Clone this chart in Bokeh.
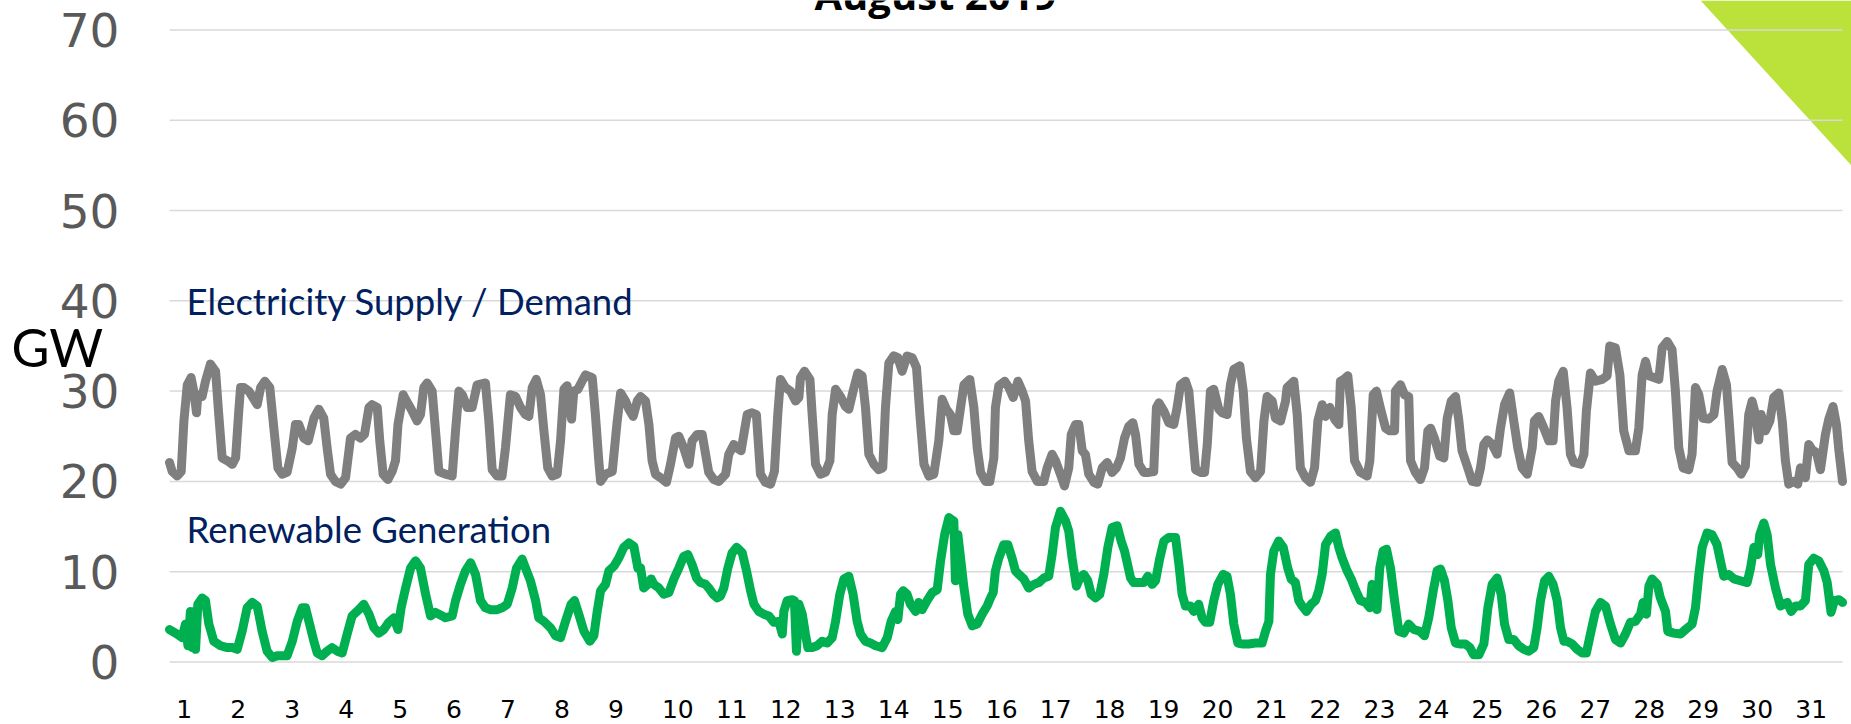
from bokeh.plotting import figure
from bokeh.models import Range1d, Label, ColumnDataSource
from bokeh.embed import file_html
from bokeh.resources import INLINE
from bokeh.core.properties import value

title_text = "August 2019"
y_label = "GW"
demand_label = "Electricity Supply / Demand"
renew_label = "Renewable Generation"
y_ticks = [0, 10, 20, 30, 40, 50, 60, 70]
y_tick_labels = [str(v) for v in y_ticks]
day_labels = [str(d) for d in range(1, 32)]

# hours since 1 Aug 00:00, GW
demand_hours = [0, 1.2, 3.4, 5.2, 6.4, 7.9, 9.6, 10.8, 12.0, 12.6, 14.5, 16.0, 18.2, 20.5, 21.9, 23.4, 25.7, 27.9, 29.4, 30.8, 31.6, 33.1, 35.3, 36.8, 39.0, 40.5, 42.4, 44.6, 46.4, 48.2, 50.1, 52.3, 54.6, 56.0, 57.5, 59.7, 61.7, 64.2, 66.4, 68.6, 70.1, 71.6, 73.8, 76.1, 78.3, 80.5, 82.7, 84.9, 86.7, 88.7, 90.1, 92.4, 93.5, 95.0, 97.1, 99.0, 100.5, 101.6, 103.9, 105.4, 107.5, 110.1, 111.6, 113.1, 114.6, 116.8, 118.3, 119.8, 122.7, 125.7, 127.2, 128.7, 130.2, 132.4, 134.6, 136.8, 140.5, 142.0, 143.5, 145.7, 147.9, 149.4, 151.6, 153.9, 156.1, 158.3, 159.8, 161.3, 163.1, 165.0, 166.5, 168.2, 170.2, 172.4, 173.9, 175.4, 176.8, 178.8, 179.8, 181.6, 183.5, 185.0, 188.0, 189.4, 190.9, 191.7, 193.9, 196.9, 199.1, 200.6, 202.8, 204.3, 206.2, 208.0, 209.5, 211.7, 213.2, 214.6, 216.1, 218.4, 221.0, 222.8, 225.0, 226.5, 228.7, 231.0, 232.4, 234.7, 236.9, 238.4, 239.8, 242.1, 244.3, 247.3, 248.7, 251.0, 252.4, 254.2, 255.4, 256.9, 259.1, 261.0, 262.8, 265.0, 267.3, 269.0, 270.5, 271.7, 273.9, 276.2, 278.4, 279.9, 280.6, 282.4, 284.8, 285.8, 287.3, 289.5, 291.7, 293.7, 294.7, 296.2, 298.4, 300.6, 302.1, 304.0, 306.1, 308.0, 309.5, 311.0, 313.2, 315.4, 317.2, 318.4, 319.9, 322.1, 323.9, 325.8, 328.0, 330.3, 332.2, 333.7, 335.5, 337.7, 339.9, 342.1, 343.6, 345.5, 347.3, 348.8, 350.3, 351.8, 353.3, 355.9, 357.7, 359.2, 360.7, 362.9, 364.8, 366.6, 367.3, 368.8, 371.4, 373.3, 375.2, 377.3, 379.2, 380.7, 382.1, 383.6, 385.9, 388.8, 390.3, 392.5, 394.0, 396.2, 398.0, 399.9, 401.0, 402.9, 404.4, 405.9, 407.3, 408.8, 411.1, 412.8, 414.8, 417.0, 419.2, 421.1, 422.9, 424.7, 426.6, 428.4, 429.6, 431.1, 433.3, 435.5, 437.7, 438.9, 440.0, 442.2, 444.4, 446.6, 448.1, 449.6, 451.8, 453.3, 454.8, 456.3, 458.5, 460.3, 461.5, 462.9, 464.4, 466.6, 468.1, 470.3, 471.8, 473.3, 476.0, 477.5, 478.9, 480.7, 482.9, 485.2, 486.7, 488.1, 490.4, 491.8, 494.1, 496.3, 497.0, 500.0, 501.5, 502.9, 505.2, 507.4, 509.2, 510.7, 512.6, 514.1, 516.0, 518.1, 520.0, 520.7, 522.2, 524.0, 525.5, 527.0, 529.6, 532.6, 533.8, 535.3, 536.7, 538.8, 540.8, 542.7, 544.8, 545.2, 547.4, 549.2, 551.1, 551.9, 554.1, 556.3, 558.1, 559.6, 560.8, 562.5, 564.9, 566.7, 568.2, 570.0, 571.9, 573.4, 574.8, 577.1, 579.3, 581.5, 583.0, 584.5, 586.0, 588.2, 590.4, 591.9, 593.7, 596.0, 597.8, 599.6, 601.5, 603.8, 606.0, 607.0, 608.9, 611.2, 613.4, 615.3, 616.4, 617.8, 619.8, 621.5, 623.0, 624.5, 627.5, 629.0, 630.1, 631.9, 634.1, 637.1, 639.3, 640.5, 643.0, 645.0, 646.7, 649.0, 651.9, 653.4, 654.9, 656.4, 657.9, 660.1, 662.3, 663.8, 666.0, 668.2, 669.7, 671.2, 673.1, 675.6, 677.1, 678.6, 680.1, 682.0, 684.5, 686.8, 688.2, 690.5, 692.4, 693.4, 694.9, 697.1, 698.9, 700.8, 702.3, 703.8, 705.3, 706.8, 707.8, 709.7, 711.7, 713.4, 715.7, 717.2, 718.6, 720.1, 722.3, 724.1, 725.3, 727.5, 729.0, 730.5, 732.4, 734.2, 736.4, 737.9, 739.8, 741.3, 742.4, 744.0]
demand_gw = [22.1, 21.1, 20.6, 21.1, 26.7, 30.7, 31.5, 30.0, 27.6, 29.6, 29.4, 31.1, 33.0, 32.2, 27.4, 22.6, 22.3, 21.9, 22.6, 27.8, 30.4, 30.4, 30.0, 29.4, 28.5, 30.4, 31.1, 30.4, 25.9, 21.5, 20.8, 21.0, 23.7, 26.3, 26.3, 24.8, 24.5, 27.0, 28.0, 27.0, 23.7, 20.8, 20.0, 19.7, 20.4, 24.8, 25.2, 24.8, 25.2, 28.2, 28.5, 28.2, 24.5, 20.8, 20.2, 21.1, 22.3, 26.3, 29.6, 28.9, 28.0, 26.7, 27.4, 30.4, 30.9, 30.0, 25.6, 21.1, 20.8, 20.6, 25.6, 30.0, 29.6, 28.2, 28.2, 30.7, 30.9, 26.7, 21.3, 20.6, 20.6, 23.7, 29.6, 29.4, 28.2, 27.4, 27.2, 30.4, 31.3, 29.6, 25.6, 21.5, 20.6, 20.8, 24.5, 30.2, 30.6, 26.9, 30.0, 30.2, 31.1, 31.8, 31.5, 27.4, 22.3, 20.0, 20.8, 21.1, 26.7, 29.8, 28.9, 28.0, 27.2, 28.9, 29.4, 28.9, 26.3, 22.3, 20.8, 20.4, 19.9, 21.9, 24.8, 25.0, 23.7, 21.9, 24.5, 25.2, 25.2, 23.0, 21.0, 20.2, 20.0, 20.8, 23.0, 24.1, 23.7, 23.4, 25.2, 27.4, 27.6, 27.4, 20.8, 19.9, 19.7, 21.1, 27.4, 31.3, 30.4, 30.0, 28.9, 29.3, 31.5, 32.2, 31.3, 27.4, 21.9, 20.8, 21.0, 22.3, 27.4, 30.2, 29.4, 28.3, 28.0, 30.0, 32.0, 31.7, 28.2, 23.0, 21.9, 21.3, 21.5, 28.2, 33.1, 33.9, 33.7, 32.2, 33.9, 33.7, 32.6, 27.4, 21.9, 20.6, 20.8, 24.5, 29.1, 28.0, 27.4, 25.6, 25.6, 28.2, 30.7, 31.3, 28.2, 23.7, 21.0, 20.0, 20.0, 22.6, 28.2, 30.6, 31.1, 30.4, 29.3, 31.1, 30.0, 28.9, 24.5, 21.1, 20.0, 20.0, 21.5, 23.0, 22.3, 20.8, 19.5, 21.5, 25.2, 26.3, 26.3, 23.4, 23.0, 20.8, 19.9, 19.7, 21.5, 22.1, 21.0, 21.5, 22.6, 24.8, 26.1, 26.5, 25.2, 21.9, 21.0, 21.0, 21.1, 28.2, 28.7, 27.8, 26.5, 26.3, 28.2, 30.7, 31.1, 30.0, 25.6, 21.3, 21.0, 21.0, 24.1, 30.0, 30.2, 28.0, 27.6, 27.4, 30.7, 32.4, 32.8, 30.0, 24.8, 21.1, 20.4, 21.1, 26.7, 29.4, 28.9, 27.0, 26.7, 28.9, 30.4, 31.1, 27.4, 21.5, 20.4, 19.9, 21.5, 26.7, 28.5, 27.2, 28.2, 26.9, 26.3, 31.1, 31.3, 31.7, 28.2, 22.3, 21.0, 20.6, 22.3, 29.6, 30.0, 27.8, 25.9, 25.6, 25.6, 30.0, 30.7, 29.6, 29.4, 22.3, 21.0, 20.2, 21.5, 25.6, 25.9, 24.8, 22.8, 22.6, 27.0, 28.9, 29.4, 26.7, 23.4, 21.7, 20.0, 19.9, 21.5, 24.1, 24.6, 24.1, 23.0, 25.9, 28.5, 29.8, 26.7, 23.7, 21.5, 20.8, 23.7, 26.7, 27.2, 25.9, 24.5, 24.5, 28.9, 31.1, 32.2, 28.2, 23.0, 22.1, 21.9, 23.0, 27.8, 32.0, 31.1, 31.3, 31.7, 35.0, 34.8, 31.8, 25.6, 23.4, 23.4, 25.9, 31.8, 33.3, 31.7, 31.5, 31.3, 34.8, 35.5, 34.6, 30.0, 23.7, 21.5, 21.3, 23.0, 30.4, 29.6, 27.0, 26.9, 27.4, 30.0, 32.4, 30.7, 27.4, 22.1, 21.5, 20.8, 21.7, 27.4, 28.9, 27.4, 24.6, 27.4, 25.6, 26.7, 29.3, 29.8, 26.7, 22.3, 19.7, 20.0, 19.7, 21.5, 20.4, 24.1, 23.5, 23.2, 21.3, 25.2, 26.9, 28.3, 26.3, 23.4, 20.0]

renew_hours = [0, 3.4, 5.6, 7.1, 8.2, 9.3, 10.1, 10.8, 11.6, 12.6, 14.5, 16.0, 17.5, 19.7, 22.7, 25.7, 27.9, 30.1, 32.3, 34.5, 36.8, 39.0, 41.2, 43.4, 45.7, 47.9, 50.1, 52.3, 54.6, 56.8, 59.0, 60.5, 62.0, 64.2, 65.7, 67.9, 70.1, 72.3, 74.6, 76.8, 79.0, 81.2, 84.2, 86.4, 88.7, 90.9, 93.1, 95.3, 97.5, 99.8, 101.6, 103.0, 105.0, 107.2, 109.4, 111.6, 113.9, 116.1, 118.3, 121.3, 122.7, 125.7, 127.2, 129.4, 131.6, 133.9, 136.1, 138.3, 140.5, 142.8, 145.7, 147.9, 150.2, 152.4, 154.3, 156.8, 158.8, 160.5, 162.8, 164.2, 166.5, 169.4, 171.7, 173.9, 176.1, 178.6, 180.1, 182.0, 184.3, 186.9, 188.7, 190.2, 191.7, 193.9, 195.4, 197.6, 199.8, 202.0, 204.3, 206.5, 208.3, 209.5, 210.9, 212.7, 214.2, 215.4, 217.6, 219.8, 222.1, 224.3, 226.5, 228.7, 230.5, 232.4, 234.4, 236.1, 238.4, 239.8, 241.8, 243.6, 245.0, 246.5, 248.3, 250.2, 252.2, 254.7, 256.6, 258.4, 259.9, 262.1, 264.3, 266.5, 268.8, 271.0, 272.5, 273.2, 274.7, 276.9, 277.9, 278.8, 279.9, 281.4, 282.8, 283.9, 285.8, 288.0, 290.2, 292.5, 294.7, 296.2, 298.1, 299.9, 302.1, 304.0, 305.8, 307.3, 309.5, 311.7, 314.0, 316.9, 319.2, 320.9, 322.9, 323.9, 325.1, 326.3, 328.0, 329.5, 331.8, 333.2, 334.7, 336.9, 339.2, 341.4, 342.9, 344.7, 346.6, 348.8, 349.5, 350.6, 351.8, 353.3, 355.0, 357.0, 359.2, 361.4, 363.6, 365.1, 366.3, 367.3, 368.8, 371.0, 372.8, 374.7, 376.2, 377.7, 379.9, 382.1, 384.4, 386.6, 388.8, 391.0, 392.5, 394.0, 396.2, 398.5, 399.9, 401.4, 403.3, 404.8, 406.6, 408.4, 409.9, 411.8, 413.7, 415.5, 417.3, 419.2, 421.4, 423.2, 424.7, 425.9, 427.4, 428.8, 431.1, 433.3, 435.1, 437.0, 438.5, 440.4, 442.2, 444.4, 447.4, 448.9, 450.3, 451.8, 454.0, 455.5, 457.7, 459.2, 460.7, 462.6, 464.4, 466.2, 468.6, 470.3, 471.8, 473.3, 475.1, 477.0, 480.0, 482.9, 485.9, 487.4, 488.9, 489.6, 491.1, 493.3, 495.3, 497.3, 498.8, 500.7, 502.2, 503.7, 505.6, 507.7, 509.6, 511.1, 512.6, 514.1, 516.3, 518.5, 520.0, 521.5, 523.7, 525.5, 527.4, 529.6, 531.9, 533.8, 534.8, 535.9, 537.0, 538.2, 539.7, 541.2, 543.0, 544.8, 546.7, 548.9, 551.1, 553.4, 556.0, 558.1, 560.0, 562.0, 563.7, 565.2, 567.0, 568.5, 570.0, 571.9, 574.1, 576.3, 578.3, 580.0, 582.3, 584.5, 586.3, 588.2, 590.4, 592.2, 593.7, 595.6, 597.8, 600.0, 602.3, 604.5, 606.7, 608.2, 609.7, 611.5, 613.4, 615.3, 617.1, 618.6, 620.1, 621.5, 623.8, 626.0, 628.2, 630.1, 631.9, 634.1, 636.4, 638.6, 640.8, 643.0, 645.3, 647.5, 649.7, 651.9, 654.2, 655.3, 656.8, 657.9, 659.3, 661.6, 663.0, 665.3, 666.3, 669.0, 671.9, 674.2, 677.1, 678.6, 680.1, 681.6, 683.8, 686.0, 688.2, 689.7, 691.2, 693.4, 695.7, 698.6, 701.6, 703.1, 704.6, 706.3, 707.2, 709.0, 710.5, 712.0, 714.2, 716.4, 719.4, 721.2, 723.1, 725.3, 727.5, 729.0, 731.2, 733.5, 735.7, 737.2, 738.9, 740.4, 742.4, 744.0]
renew_gw = [3.6, 3.1, 2.7, 4.2, 1.8, 5.6, 1.6, 5.6, 1.4, 6.4, 7.1, 6.8, 4.2, 2.3, 1.8, 1.6, 1.6, 1.4, 3.4, 6.0, 6.6, 6.2, 3.4, 1.2, 0.5, 0.7, 0.7, 0.7, 2.3, 4.5, 6.0, 6.0, 4.5, 2.3, 1.0, 0.7, 1.2, 1.6, 1.2, 1.0, 3.1, 5.1, 5.8, 6.4, 5.3, 3.8, 3.2, 3.6, 4.4, 4.9, 3.6, 6.0, 8.2, 10.4, 11.2, 10.4, 7.5, 5.1, 5.5, 5.1, 4.9, 5.1, 6.8, 8.6, 10.1, 11.0, 9.7, 6.8, 6.0, 5.8, 5.8, 6.0, 6.4, 8.2, 10.4, 11.4, 10.1, 9.0, 6.8, 4.9, 4.5, 3.8, 2.9, 2.7, 4.5, 6.4, 6.8, 5.3, 3.4, 2.3, 2.9, 5.6, 7.9, 8.6, 10.1, 10.6, 11.5, 12.7, 13.2, 12.8, 10.4, 10.4, 8.2, 8.6, 9.2, 8.6, 8.2, 7.5, 7.7, 9.2, 10.4, 11.7, 11.9, 10.8, 9.3, 8.8, 8.6, 8.2, 7.5, 7.1, 7.3, 8.2, 10.4, 12.1, 12.7, 12.1, 10.1, 7.9, 6.4, 5.6, 5.3, 5.1, 4.4, 4.5, 3.1, 5.6, 6.8, 6.9, 6.8, 1.2, 6.4, 5.3, 3.1, 1.6, 1.6, 1.8, 2.3, 2.1, 2.7, 4.5, 7.5, 9.2, 9.5, 7.5, 4.5, 3.1, 2.3, 2.1, 1.8, 1.6, 2.7, 4.5, 5.6, 4.7, 7.5, 7.9, 7.5, 6.4, 5.6, 6.6, 5.8, 6.8, 7.7, 8.0, 11.2, 14.1, 16.0, 15.6, 9.0, 14.1, 11.5, 8.2, 5.3, 4.0, 4.2, 5.3, 6.2, 7.1, 7.7, 10.1, 11.5, 13.0, 13.0, 11.5, 10.1, 9.7, 9.2, 8.2, 8.6, 8.8, 9.3, 9.5, 11.9, 14.9, 16.7, 15.6, 14.5, 11.5, 8.4, 9.3, 9.7, 9.0, 7.5, 7.1, 7.5, 9.7, 12.7, 14.9, 15.1, 13.4, 12.3, 11.0, 9.3, 8.8, 8.8, 8.8, 9.5, 8.6, 9.0, 11.5, 13.4, 13.8, 13.8, 10.8, 7.5, 6.2, 6.2, 5.6, 6.4, 4.9, 4.4, 4.4, 6.8, 8.6, 9.7, 9.5, 7.5, 4.2, 2.1, 2.0, 2.0, 2.1, 2.1, 3.4, 4.5, 9.7, 12.3, 13.4, 12.7, 10.4, 9.2, 8.8, 6.8, 6.2, 5.6, 6.4, 6.8, 7.9, 9.7, 13.0, 13.9, 14.3, 12.7, 11.5, 10.1, 9.2, 8.0, 6.8, 6.6, 6.0, 8.6, 6.2, 5.8, 10.4, 12.3, 12.5, 10.4, 6.8, 3.4, 3.2, 4.2, 3.6, 3.4, 2.9, 4.9, 7.9, 10.1, 10.3, 9.0, 6.8, 3.8, 2.1, 2.0, 2.0, 1.6, 0.8, 0.8, 2.0, 6.0, 8.6, 9.3, 7.5, 4.2, 2.5, 2.5, 1.8, 1.4, 1.2, 1.6, 3.8, 6.8, 9.0, 9.5, 8.6, 6.8, 3.8, 2.3, 2.3, 2.0, 1.4, 1.0, 1.0, 3.1, 5.6, 6.6, 6.2, 4.2, 2.5, 2.1, 3.1, 4.4, 4.5, 5.3, 6.6, 5.3, 8.4, 9.2, 8.6, 7.1, 5.6, 3.4, 3.2, 3.1, 3.6, 4.2, 6.0, 9.7, 12.7, 14.3, 14.1, 13.0, 11.2, 9.5, 9.7, 9.2, 9.0, 8.8, 10.4, 12.7, 11.9, 14.1, 15.4, 14.1, 10.8, 8.2, 6.2, 6.6, 5.6, 6.2, 6.2, 6.8, 10.8, 11.5, 11.2, 10.1, 8.8, 5.5, 6.8, 6.9, 6.6]

GRAY = "#7F7F7F"
GREEN = "#00B050"
NAVY = "#002060"
GRID = "#D9D9D9"

# x in hours since start of month; the whole canvas is the plotting frame
p = figure(width=1851, height=724, output_backend="svg", toolbar_location=None,
           x_range=Range1d(-75.16, 748.0), y_range=Range1d(-6.92, 73.26),
           x_axis_location=None, y_axis_location=None, min_border=0)
p.outline_line_color = None
p.background_fill_color = "white"
p.border_fill_color = "white"
p.grid.visible = False

# decorative corner triangle (behind the grid)
p.patch([680.9, 748.0, 748.0], [73.26, 73.26, 54.98], fill_color="#BAE23A",
        line_color=None, level="image")

# horizontal gridlines over the plotting period
p.segment(x0=[0] * len(y_ticks), x1=[744] * len(y_ticks), y0=y_ticks, y1=y_ticks,
          line_color=GRID, line_width=1.5, level="underlay")

p.line(demand_hours, demand_gw, line_color=GRAY, line_width=9, line_join="round", line_cap="round")
p.line(renew_hours, renew_gw, line_color=GREEN, line_width=9, line_join="round", line_cap="round")

# y tick labels
ysrc = ColumnDataSource(dict(x=[-22.24] * len(y_ticks), y=y_ticks, text=y_tick_labels))
p.text(x="x", y="y", text="text", source=ysrc, text_font=value("DejaVu Sans"),
       text_font_size=value("47px"), text_color="#595959", text_align="right",
       text_baseline="middle")

# x tick labels (day of month)
xsrc = ColumnDataSource(dict(x=[(d - 1) * 24 + 3 for d in range(1, 32)],
                             y=[-5.19] * 31, text=day_labels))
p.text(x="x", y="y", text="text", source=xsrc, text_font=value("DejaVu Sans"),
       text_font_size=value("25px"), text_color="black", text_align="left",
       text_baseline="middle")

p.add_layout(Label(x=7.6, y=39.94, text=demand_label, text_font="Lato",
                   text_font_size="36.5px", text_color=NAVY, text_baseline="middle"))
p.add_layout(Label(x=7.6, y=14.70, text=renew_label, text_font="Lato",
                   text_font_size="36.5px", text_color=NAVY, text_baseline="middle"))
p.add_layout(Label(x=-70.3, y=34.86, text=y_label, text_font="Lato",
                   text_font_size="52px", text_color="black", text_baseline="middle"))
p.add_layout(Label(x=340.6, y=73.87, text=title_text, text_font="Open Sans",
                   text_font_style="bold", text_font_size="40px", text_color="black",
                   text_align="center", text_baseline="middle"))

open("out.html", "w").write(file_html(p, INLINE))
